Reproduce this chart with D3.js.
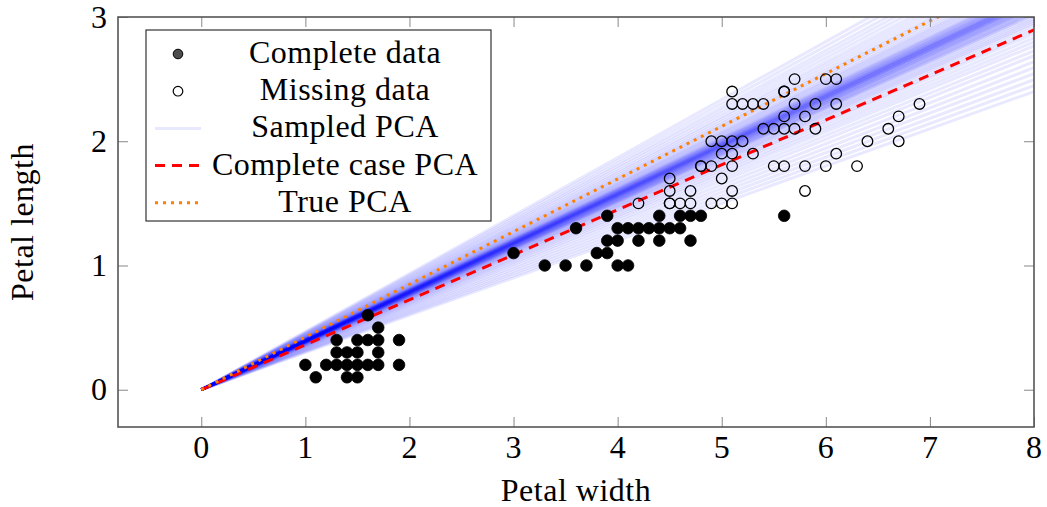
<!DOCTYPE html>
<html>
<head>
<meta charset="utf-8">
<script src="https://cdn.jsdelivr.net/npm/d3@7"></script>
<style>
  html, body { margin: 0; padding: 0; background: #fff; }
  svg text { font-family: "Liberation Serif", "Times New Roman", serif; fill: #000; }
</style>
</head>
<body>
<svg id="chart" width="1047" height="507" font-family="Liberation Serif, serif"></svg>
<script>
// Observed iris petal measurements: [x, y]
const completeData = [
  [1.6,0.6],[1.7,0.5],
  [1.3,0.4],[1.5,0.4],[1.6,0.4],[1.7,0.4],[1.9,0.4],
  [1.3,0.3],[1.4,0.3],[1.5,0.3],[1.7,0.3],
  [1.0,0.2],[1.2,0.2],[1.3,0.2],[1.4,0.2],[1.5,0.2],[1.6,0.2],[1.7,0.2],[1.9,0.2],
  [1.1,0.1],[1.4,0.1],[1.5,0.1],
  [3.0,1.1],[3.6,1.3],[3.9,1.4],
  [4.4,1.4],[4.6,1.4],[4.7,1.4],[4.8,1.4],[5.6,1.4],
  [4.0,1.3],[4.1,1.3],[4.2,1.3],[4.3,1.3],[4.4,1.3],[4.5,1.3],[4.6,1.3],
  [3.9,1.2],[4.0,1.2],[4.2,1.2],[4.4,1.2],[4.7,1.2],
  [3.8,1.1],[3.9,1.1],
  [3.3,1.0],[3.5,1.0],[3.7,1.0],[4.0,1.0],[4.1,1.0]
];

// Rows with an entry missing, shown at their true position
const missingData = [
  [4.2,1.5],[4.5,1.5],[4.5,1.5],[4.6,1.5],[4.7,1.5],[4.9,1.5],[5.0,1.5],[5.1,1.5],
  [4.5,1.6],[4.7,1.6],[5.1,1.6],[5.8,1.6],
  [4.5,1.7],[5.0,1.7],
  [4.8,1.8],[4.8,1.8],[4.9,1.8],[5.1,1.8],[5.5,1.8],[5.6,1.8],[5.8,1.8],[6.0,1.8],[6.3,1.8],
  [5.0,1.9],[5.1,1.9],[5.3,1.9],[6.1,1.9],
  [4.9,2.0],[5.0,2.0],[5.1,2.0],[5.2,2.0],[6.4,2.0],[6.7,2.0],
  [5.4,2.1],[5.5,2.1],[5.6,2.1],[5.7,2.1],[5.9,2.1],[6.6,2.1],
  [5.6,2.2],[5.8,2.2],[6.7,2.2],
  [5.1,2.3],[5.2,2.3],[5.3,2.3],[5.4,2.3],[5.7,2.3],[5.9,2.3],[6.1,2.3],[6.9,2.3],
  [5.1,2.4],[5.6,2.4],[5.6,2.4],
  [5.7,2.5],[6.0,2.5],[6.1,2.5]
];

// Slopes of the principal direction from posterior samples (lines through the origin)
const sampledSlopes = [
  0.300, 0.306, 0.312, 0.318, 0.324, 0.330, 0.336, 0.341, 0.346, 0.350,
  0.354, 0.358, 0.361, 0.364, 0.367, 0.369, 0.371, 0.373, 0.375, 0.377,
  0.378, 0.379, 0.380, 0.381, 0.382, 0.383, 0.384, 0.385, 0.385, 0.386,
  0.387, 0.388, 0.388, 0.389, 0.390, 0.390, 0.391, 0.391, 0.392, 0.392,
  0.393, 0.393, 0.394, 0.394, 0.395, 0.395, 0.396, 0.396, 0.397, 0.397,
  0.398, 0.399, 0.400, 0.400, 0.401, 0.402, 0.403, 0.404, 0.405, 0.406,
  0.408, 0.410, 0.412, 0.414, 0.416, 0.419, 0.422, 0.425, 0.428, 0.432,
  0.436, 0.440, 0.445, 0.450, 0.455, 0.461, 0.467
];
const completeCaseSlope = 0.362;
const trueSlope = 0.424;

const xTicks = [0, 1, 2, 3, 4, 5, 6, 7, 8];
const yTicks = [0, 1, 2, 3];
const xDomain = [-0.8, 8];
const yDomain = [-0.3, 3];

const legendLabels = ["Complete data", "Missing data", "Sampled PCA", "Complete case PCA", "True PCA"];

// ---- layout ----
const plot = { left: 118, right: 1034, top: 17, bottom: 427 };
const x = d3.scaleLinear().domain(xDomain).range([plot.left, plot.right]);
const y = d3.scaleLinear().domain(yDomain).range([plot.bottom, plot.top]);

const svg = d3.select("#chart");
const fontSize = 32;
const letterSpacing = 0.5;

svg.append("defs").append("clipPath").attr("id", "plot-clip")
  .append("rect")
  .attr("x", plot.left).attr("y", plot.top)
  .attr("width", plot.right - plot.left).attr("height", plot.bottom - plot.top);

const inner = svg.append("g").attr("clip-path", "url(#plot-clip)");

const linePath = slope => d3.line().x(d => x(d)).y(d => y(slope * d))([0, xDomain[1]]);

// sampled principal directions
inner.append("g").selectAll("path").data(sampledSlopes).join("path")
  .attr("d", s => linePath(s))
  .attr("fill", "none")
  .attr("stroke", "#0000ff")
  .attr("stroke-opacity", 0.09)
  .attr("stroke-width", 3);

// complete case PCA
inner.append("path")
  .attr("d", linePath(completeCaseSlope))
  .attr("fill", "none")
  .attr("stroke", "#ff0000")
  .attr("stroke-width", 3)
  .attr("stroke-dasharray", "10,7");

// true PCA
inner.append("path")
  .attr("d", linePath(trueSlope))
  .attr("fill", "none")
  .attr("stroke", "#ff8000")
  .attr("stroke-width", 3)
  .attr("stroke-dasharray", "3,5");

// points
inner.append("g").selectAll("circle").data(completeData).join("circle")
  .attr("cx", d => x(d[0])).attr("cy", d => y(d[1]))
  .attr("r", 5.8)
  .attr("fill", "#000")
  .attr("stroke", "#000")
  .attr("stroke-width", 0.8);

inner.append("g").selectAll("circle").data(missingData).join("circle")
  .attr("cx", d => x(d[0])).attr("cy", d => y(d[1]))
  .attr("r", 5.3)
  .attr("fill", "none")
  .attr("stroke", "#000")
  .attr("stroke-width", 1.3);

// ---- axes frame and ticks ----
const tickLen = 10;
const axisG = svg.append("g");

const xBottom = d3.axisBottom(x).tickValues(xTicks).tickSize(-tickLen).tickFormat("");
const xTop = d3.axisTop(x).tickValues(xTicks).tickSize(-tickLen).tickFormat("");
const yLeft = d3.axisLeft(y).tickValues(yTicks).tickSize(-tickLen).tickFormat("");
const yRight = d3.axisRight(y).tickValues(yTicks).tickSize(-tickLen).tickFormat("");

[[xBottom, `translate(0,${plot.bottom})`], [xTop, `translate(0,${plot.top})`],
 [yLeft, `translate(${plot.left},0)`], [yRight, `translate(${plot.right},0)`]].forEach(([ax, tr]) => {
  const g = axisG.append("g").attr("transform", tr).call(ax);
  g.select(".domain").remove();
  g.selectAll(".tick line").attr("stroke", "#888").attr("stroke-width", 1);
});

axisG.append("rect")
  .attr("x", plot.left).attr("y", plot.top)
  .attr("width", plot.right - plot.left).attr("height", plot.bottom - plot.top)
  .attr("fill", "none").attr("stroke", "#555").attr("stroke-width", 1.6);

// tick labels
svg.append("g").selectAll("text").data(xTicks).join("text")
  .attr("x", d => x(d)).attr("y", 458)
  .attr("text-anchor", "middle")
  .attr("font-size", fontSize)
  .text(d => d);

svg.append("g").selectAll("text").data(yTicks).join("text")
  .attr("x", 107).attr("y", d => y(d) + 10.5)
  .attr("text-anchor", "end")
  .attr("font-size", fontSize)
  .text(d => d);

// axis titles
svg.append("text")
  .attr("x", (plot.left + plot.right) / 2).attr("y", 501)
  .attr("text-anchor", "middle")
  .attr("font-size", fontSize)
  .attr("letter-spacing", letterSpacing)
  .text("Petal width");

svg.append("text")
  .attr("transform", `translate(33,${(plot.top + plot.bottom) / 2}) rotate(-90)`)
  .attr("text-anchor", "middle")
  .attr("font-size", fontSize)
  .attr("letter-spacing", letterSpacing)
  .text("Petal length");

// ---- legend ----
const legend = svg.append("g");
legend.append("rect")
  .attr("x", 146).attr("y", 30).attr("width", 345).attr("height", 191)
  .attr("fill", "#fff").attr("stroke", "#333").attr("stroke-width", 1.2);

const rowY = i => 52.5 + i * 37.2;
const symX = 178;

legend.selectAll("text").data(legendLabels).join("text")
  .attr("x", 345).attr("y", (d, i) => rowY(i) + 10.5)
  .attr("text-anchor", "middle")
  .attr("font-size", fontSize)
  .attr("letter-spacing", letterSpacing)
  .text(d => d);

legend.append("circle").attr("cx", symX).attr("cy", rowY(0) + 1.5).attr("r", 4.8)
  .attr("fill", "#4d4d4d").attr("stroke", "#000").attr("stroke-width", 1);
legend.append("circle").attr("cx", symX).attr("cy", rowY(1) + 1.5).attr("r", 4.8)
  .attr("fill", "#fff").attr("stroke", "#000").attr("stroke-width", 1.2);
legend.append("line").attr("x1", 155).attr("x2", 201).attr("y1", rowY(2) + 1.5).attr("y2", rowY(2) + 1.5)
  .attr("stroke", "#0000ff").attr("stroke-opacity", 0.09).attr("stroke-width", 3);
legend.append("line").attr("x1", 155).attr("x2", 201).attr("y1", rowY(3) + 1.5).attr("y2", rowY(3) + 1.5)
  .attr("stroke", "#ff0000").attr("stroke-width", 3).attr("stroke-dasharray", "10,7");
legend.append("line").attr("x1", 155).attr("x2", 201).attr("y1", rowY(4) + 1.5).attr("y2", rowY(4) + 1.5)
  .attr("stroke", "#ff8000").attr("stroke-width", 3).attr("stroke-dasharray", "3,5");
</script>
</body>
</html>
